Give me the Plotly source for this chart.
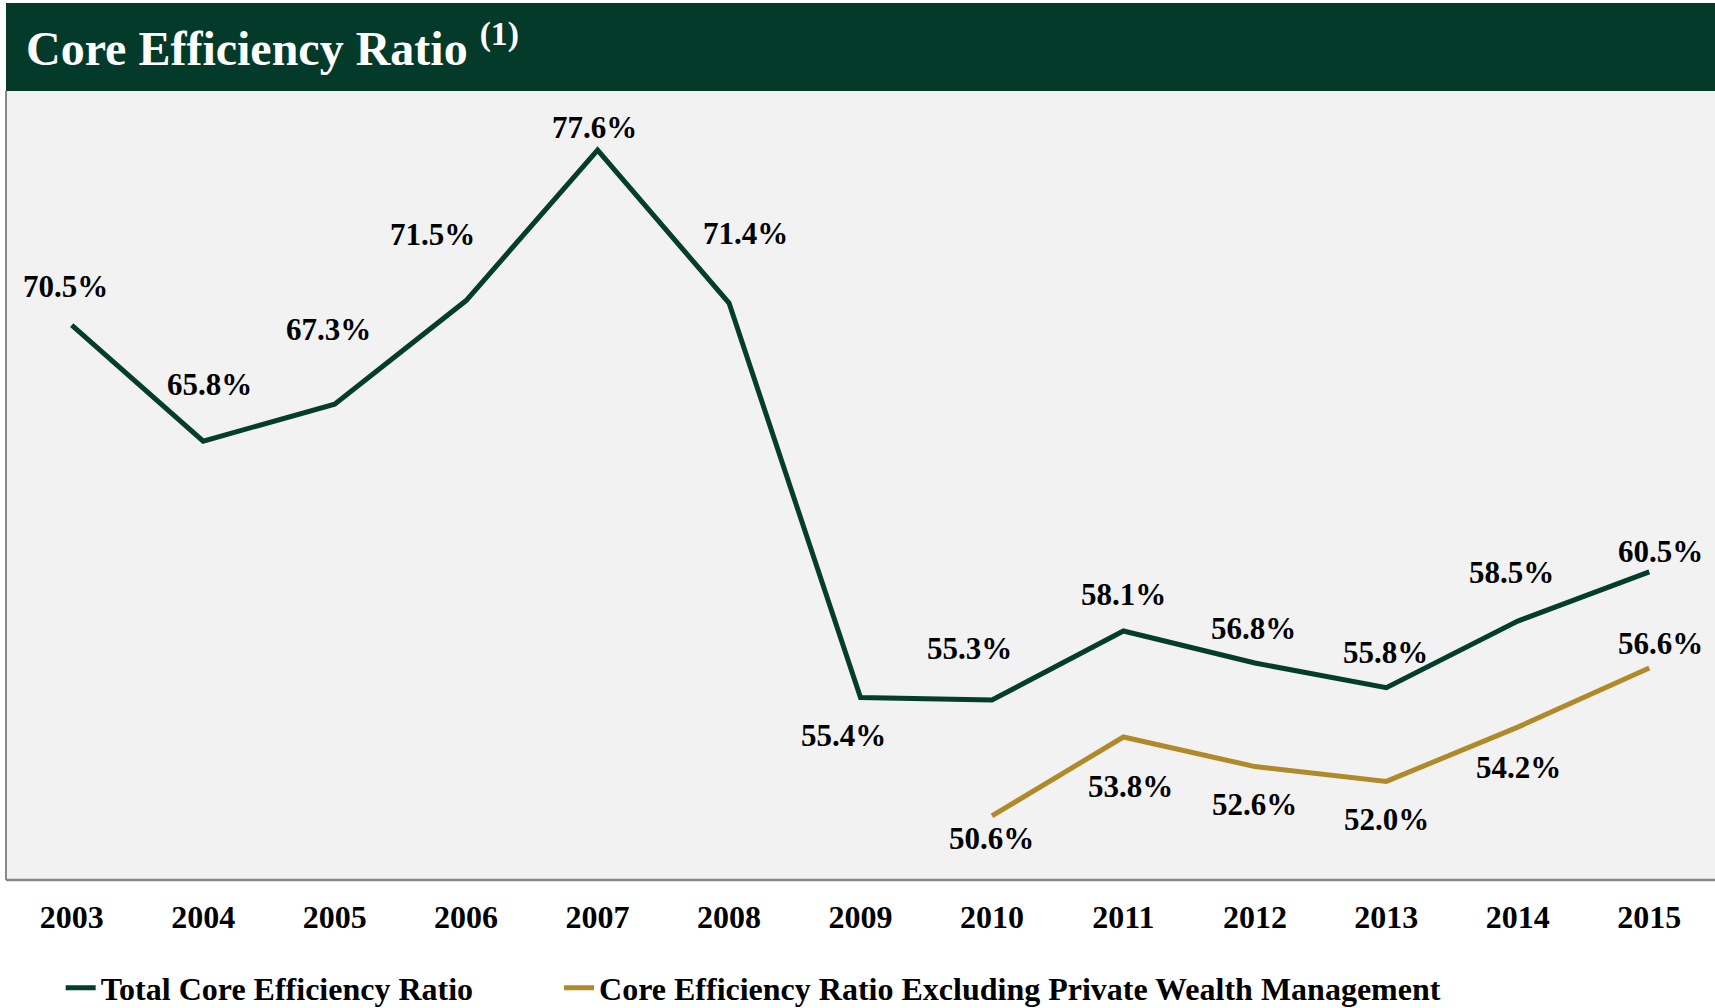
import plotly.graph_objects as go

years = ["2003", "2004", "2005", "2006", "2007", "2008", "2009",
         "2010", "2011", "2012", "2013", "2014", "2015"]
total_core = [70.5, 65.8, 67.3, 71.5, 77.6, 71.4, 55.4, 55.3, 58.1, 56.8, 55.8, 58.5, 60.5]
ex_pwm_years = ["2010", "2011", "2012", "2013", "2014", "2015"]
ex_pwm = [50.6, 53.8, 52.6, 52.0, 54.2, 56.6]

# label offsets (px) relative to each point
total_shift = [(-6, 39), (6, 57), (-6, 75), (-34, 66), (-3, 23), (16, 70),
               (-17, -38), (-22, 52), (0, 36), (-1, 35), (-1, 35), (-6, 49), (11, 20)]
ex_shift = [(0, -23), (7, -50), (0, -38), (0, -38), (1, -40), (11, 24)]

GREEN = "#043d2b"
GOLD = "#b08a28"
FONT = "Liberation Serif"

fig = go.Figure()
fig.add_trace(go.Scatter(x=years, y=total_core, mode="lines",
                         name="<b>Total Core Efficiency Ratio</b>",
                         line=dict(color=GREEN, width=5), legend="legend"))
fig.add_trace(go.Scatter(x=ex_pwm_years, y=ex_pwm, mode="lines",
                         name="<b>Core Efficiency Ratio Excluding Private Wealth Management</b>",
                         line=dict(color=GOLD, width=5), legend="legend2"))

ann = []
for x, y, (dx, dy) in zip(years, total_core, total_shift):
    ann.append(dict(x=years.index(x), y=y, xref="x", yref="y", text=f"<b>{y:.1f}%</b>",
                    showarrow=False, xshift=dx, yshift=dy,
                    font=dict(family=FONT, size=31, color="black")))
for x, y, (dx, dy) in zip(ex_pwm_years, ex_pwm, ex_shift):
    ann.append(dict(x=years.index(x), y=y, xref="x", yref="y", text=f"<b>{y:.1f}%</b>",
                    showarrow=False, xshift=dx, yshift=dy,
                    font=dict(family=FONT, size=31, color="black")))

ann.append(dict(x=0, y=1, xref="paper", yref="paper", xanchor="left", yanchor="middle",
                xshift=18, yshift=46, showarrow=False,
                text="<b>Core Efficiency Ratio <sup>(1)</sup></b>",
                font=dict(family=FONT, size=48, color="white")))

plot_h = 1008 - 91 - 128
shapes = [
    dict(type="rect", xref="paper", yref="paper", x0=0, x1=1, y0=1, y1=1 + 88 / plot_h,
         fillcolor="#033a29", line=dict(width=0), layer="above"),
    dict(type="line", xref="paper", yref="paper", x0=0, x1=0, y0=0, y1=1,
         line=dict(color="#888888", width=2)),
    dict(type="line", xref="paper", yref="paper", x0=0, x1=1, y0=0, y1=0,
         line=dict(color="#888888", width=2.5)),
]

legend_common = dict(orientation="h", y=0.02, xref="paper", yref="container",
                     xanchor="left", yanchor="middle",
                     font=dict(family=FONT, size=32, color="black"),
                     bgcolor="rgba(0,0,0,0)")

fig.update_layout(
    width=1715, height=1008,
    margin=dict(l=6, r=0, t=91, b=128, autoexpand=False),
    paper_bgcolor="white", plot_bgcolor="#f2f2f2",
    annotations=ann, shapes=shapes,
    showlegend=True,
    legend=dict(x=0.032, **legend_common),
    legend2=dict(x=0.3236, **legend_common),
    xaxis=dict(type="category", range=[-0.5, 12.5], showgrid=False, zeroline=False,
               showline=False, ticks="", ticklabelstandoff=15,
               tickfont=dict(family=FONT, size=32, color="black"),
               tickvals=years, ticktext=[f"<b>{y}</b>" for y in years]),
    yaxis=dict(range=[48, 80], showgrid=False, zeroline=False, showticklabels=False,
               showline=False, ticks=""),
)

fig.write_html("out.html", config={"displayModeBar": False},
               post_script="document.body.style.margin='0';")
